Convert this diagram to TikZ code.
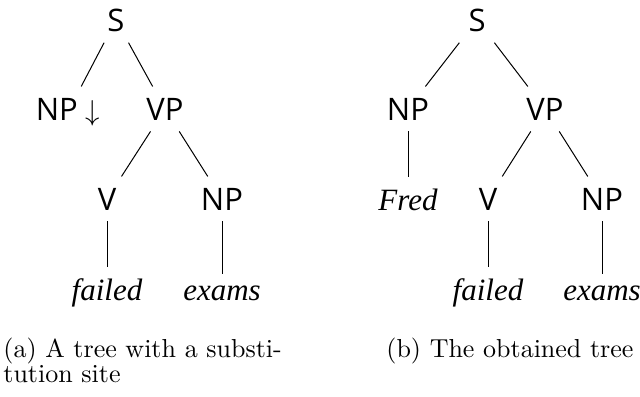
\documentclass[tikz,border=0pt]{standalone}
\usepackage{fontspec}
\setsansfont{Open Sans}
\newfontfamily\wordfont{Liberation Serif}
\newfontfamily\capfont[Extension=.otf]{lmroman10-regular}
\tikzset{
  lab/.style={font=\sffamily\fontsize{15.5pt}{18pt}\selectfont, inner xsep=5.5pt, inner ysep=5.5pt, anchor=base},
  word/.style={font=\wordfont\itshape\fontsize{15.5pt}{19pt}\selectfont, inner xsep=5.5pt, inner ysep=5.5pt, anchor=base},
  capt/.style={font=\capfont\fontsize{13pt}{12.6pt}\selectfont, inner sep=0pt, anchor=base west},
  edge/.style={draw, line width=0.5pt}
}
\begin{document}
\begin{tikzpicture}[x=0.5pt,y=-0.5pt]
\useasboundingbox (0,0) rectangle (640,396);
% tree (a)
\node[lab] (Sa) at (116,31) {S};
\node[lab] (NPsub) at (68,120) {NP $\downarrow$};
\node[lab] (VPa) at (165,120) {VP};
\node[lab] (Va) at (107,210) {V};
\node[lab] (NPa) at (222,210) {NP};
\node[word] (faileda) at (107,300) {failed};
\node[word] (examsa) at (222,300) {exams};
\draw[edge] (Sa) -- (NPsub);
\draw[edge] (Sa) -- (VPa);
\draw[edge] (VPa) -- (Va);
\draw[edge] (VPa) -- (NPa);
\draw[edge] (Va) -- (faileda);
\draw[edge] (NPa) -- (examsa);
% tree (b)
\node[lab] (Sb) at (477,31) {S};
\node[lab] (NPb1) at (408,120) {NP};
\node[lab] (VPb) at (545,120) {VP};
\node[word] (fred) at (408,210) {Fred};
\node[lab] (Vb) at (488,210) {V};
\node[lab] (NPb2) at (602,210) {NP};
\node[word] (failedb) at (488,300) {failed};
\node[word] (examsb) at (602,300) {exams};
\draw[edge] (Sb) -- (NPb1);
\draw[edge] (Sb) -- (VPb);
\draw[edge] (NPb1) -- (fred);
\draw[edge] (VPb) -- (Vb);
\draw[edge] (VPb) -- (NPb2);
\draw[edge] (Vb) -- (failedb);
\draw[edge] (NPb2) -- (examsb);
% captions
\node[capt, text width=139pt] (capa) at (3,357) {\baselineskip=12.6pt\makebox[139pt][s]{(a) A tree with a substi-}\newline tution site\par};
\node[capt] (capb) at (386,357) {(b) The obtained tree};
\end{tikzpicture}
\end{document}
